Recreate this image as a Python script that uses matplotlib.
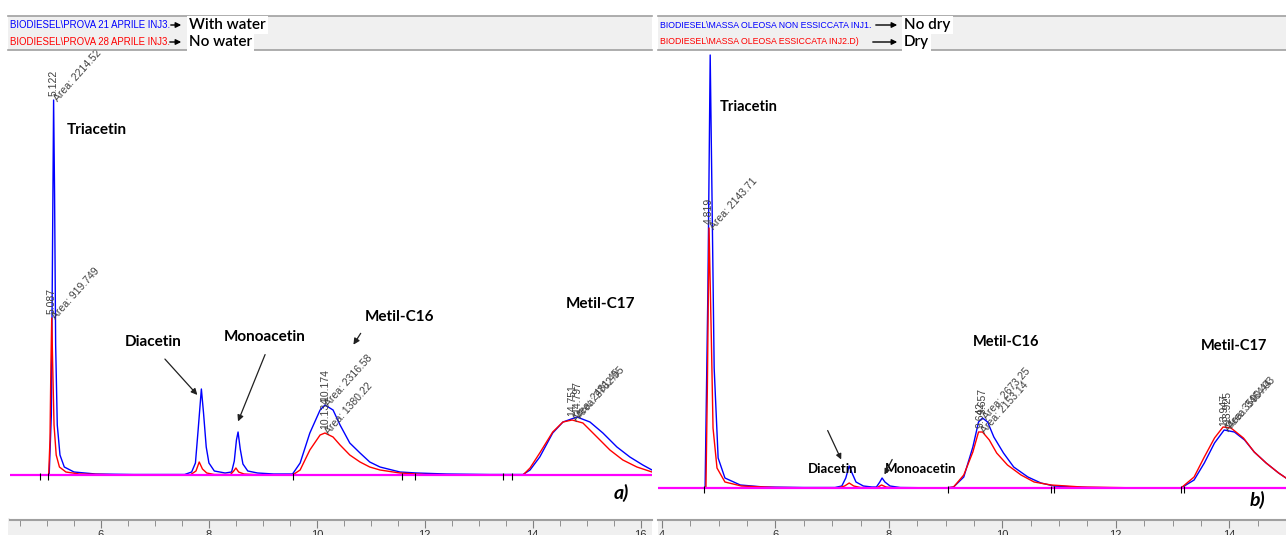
import math
import matplotlib
matplotlib.use("Agg")
import matplotlib.pyplot as plt
from matplotlib.patches import Rectangle, FancyArrowPatch

W, H = 1286, 535

# ---- chromatogram traces: (retention time [min], signal)
# panel a) with water (blue) / no water (red)
a_blue = [
    (4.31, 0), (4.95, 0), (5.04, 0), (5.08, 60), (5.105, 250), (5.122, 375), (5.14, 280),
    (5.16, 130), (5.19, 50), (5.24, 20), (5.32, 8), (5.5, 3), (5.9, 1), (6.6, 0.5),
    (7.55, 0.5), (7.68, 3), (7.75, 12), (7.8, 45), (7.86, 86), (7.9, 62), (7.95, 28),
    (8.0, 12), (8.1, 4), (8.3, 2),
    (8.42, 3), (8.47, 14), (8.51, 35), (8.54, 43), (8.58, 26), (8.63, 11), (8.72, 4),
    (8.9, 2), (9.2, 1),
    (9.55, 1), (9.69, 12), (9.87, 42), (10.06, 65), (10.15, 70), (10.3, 65), (10.43, 50),
    (10.61, 32), (10.8, 22), (10.98, 13), (11.17, 8), (11.54, 3), (11.85, 2), (12.4, 1),
    (13.2, 0.5),
    (13.82, 0.5), (13.95, 5), (14.13, 18), (14.37, 42), (14.56, 53), (14.82, 58),
    (15.06, 53), (15.3, 42), (15.56, 28), (15.8, 18), (16.04, 10), (16.21, 5)]
a_red = [
    (4.31, 0), (4.98, 0), (5.03, 0), (5.055, 35), (5.072, 110), (5.087, 157), (5.105, 110),
    (5.13, 50), (5.17, 20), (5.23, 8), (5.35, 3), (5.6, 1), (6.5, 0),
    (7.65, 0), (7.76, 4), (7.82, 13), (7.88, 6), (7.96, 2), (8.1, 0.5),
    (8.4, 0.5), (8.46, 4), (8.5, 7), (8.55, 3), (8.65, 1), (9.0, 0),
    (9.55, 0), (9.69, 5), (9.87, 25), (10.06, 40), (10.15, 42), (10.3, 38), (10.43, 30),
    (10.61, 20), (10.8, 13), (10.98, 8), (11.17, 5), (11.54, 2), (12.0, 0.5), (13.2, 0),
    (13.82, 0), (13.95, 7), (14.13, 22), (14.37, 43), (14.56, 53), (14.73, 55),
    (14.93, 52), (15.19, 38), (15.43, 25), (15.67, 15), (15.93, 8), (16.21, 3)]

# panel b) no dry (blue) / dry (red)
b_blue = [
    (3.93, 0), (4.7, 0), (4.76, 0), (4.81, 200), (4.85, 433), (4.88, 300), (4.92, 120),
    (4.99, 30), (5.11, 10), (5.38, 3), (5.8, 1), (6.5, 0.5),
    (7.05, 0.5), (7.17, 2), (7.24, 10), (7.3, 22), (7.35, 15), (7.42, 6), (7.55, 2), (7.7, 1),
    (7.78, 1), (7.84, 6), (7.88, 10), (7.93, 6), (8.02, 2), (8.2, 0.5),
    (9.0, 0), (9.14, 1), (9.32, 11), (9.48, 41), (9.58, 66), (9.65, 70), (9.74, 66),
    (9.85, 51), (10.02, 35), (10.2, 21), (10.45, 11), (10.68, 5), (10.91, 2), (11.5, 0.5),
    (12.5, 0),
    (13.15, 0), (13.38, 8), (13.56, 25), (13.74, 45), (13.91, 58), (14.09, 56), (14.27, 48),
    (14.44, 36), (14.65, 25), (14.87, 15), (15.0, 10)]
b_red = [
    (3.93, 0), (4.72, 0), (4.775, 0), (4.8, 100), (4.83, 260), (4.87, 150), (4.9, 60),
    (4.97, 20), (5.11, 6), (5.4, 2), (6.0, 0.5),
    (7.1, 0), (7.22, 2), (7.3, 5), (7.38, 2), (7.5, 0.5),
    (7.78, 0), (7.87, 3), (7.95, 1), (8.1, 0),
    (9.0, 0), (9.14, 1), (9.32, 13), (9.48, 36), (9.58, 56), (9.65, 56), (9.77, 48),
    (9.9, 35), (10.09, 23), (10.33, 13), (10.56, 6), (10.86, 3), (11.4, 1), (12.5, 0),
    (13.15, 0), (13.38, 11), (13.56, 31), (13.74, 50), (13.89, 61), (14.03, 60), (14.25, 50),
    (14.44, 36), (14.65, 25), (14.87, 15), (15.0, 10)]

# integration marks on the baseline
a_marks = [4.87, 5.02, 9.56, 11.58, 11.82, 13.45, 13.62]
b_marks = [4.74, 9.05, 10.86, 10.91, 13.15, 13.2]

# peak labels: (retention time text, area text, rt, height)
a_blue_pk = [("5.122", "Area: 2214.52", 5.122, 375), ("10.174", "Area: 2316.58", 10.15, 70),
             ("14.797", "Area: 2762.95", 14.82, 58)]
a_red_pk = [("5.087", "Area: 919.749", 5.087, 157), ("10.134", "Area: 1380.22", 10.15, 42),
            ("14.751", "Area: 2481.45", 14.73, 55)]
b_blue_pk = [("9.657", "Area: 2673.25", 9.65, 70), ("13.947", "Area: 3590.44", 13.91, 58)]
b_red_pk = [("4.819", "Area: 2143.71", 4.83, 260), ("9.642", "Area: 2153.14", 9.62, 56),
            ("13.925", "Area: 3464.03", 13.96, 61)]

# compound names
a_names = ["Triacetin", "Diacetin", "Monoacetin", "Metil-C16", "Metil-C17"]
b_names = ["Triacetin", "Diacetin", "Monoacetin", "Metil-C16", "Metil-C17"]

# header legends
a_files = ["BIODIESEL\\PROVA 21 APRILE INJ3.", "BIODIESEL\\PROVA 28 APRILE INJ3."]
a_keys = ["With water", "No water"]
b_files = ["BIODIESEL\\MASSA OLEOSA NON ESSICCATA INJ1.", "BIODIESEL\\MASSA OLEOSA ESSICCATA INJ2.D)"]
b_keys = ["No dry", "Dry"]

BLUE, RED, MAG = "#0000ff", "#ff0000", "#ff00ff"
SANS = ["Liberation Sans", "DejaVu Sans"]
BOLD = ["Lato", "DejaVu Sans"]

fig = plt.figure(figsize=(W / 100, H / 100), dpi=100, facecolor="white")


def fx(x):
    return x / W


def fy(y):
    return 1 - y / H


def header(x0, x1, files, keys, arrow_x, key_x, fs):
    fig.add_artist(Rectangle((fx(x0), fy(50)), fx(x1 - x0), (50 - 16) / H,
                             transform=fig.transFigure, facecolor="#f0f0f0",
                             edgecolor="none", zorder=-2))
    for yy in (16, 50):
        fig.add_artist(plt.Line2D([fx(x0), fx(x1)], [fy(yy), fy(yy)],
                                  transform=fig.transFigure, color="#a0a0a0", lw=1.2))
    for i, (f, k, c) in enumerate(zip(files, keys, (BLUE, RED))):
        yc = 25 + 17 * i
        fig.text(fx(x0 + 2), fy(yc), f, color=c, family=SANS, fontsize=fs, va="center")
        fig.add_artist(FancyArrowPatch((fx(arrow_x[i][0]), fy(yc)), (fx(arrow_x[i][1]), fy(yc)),
                                       transform=fig.transFigure, arrowstyle="-|>",
                                       mutation_scale=8, lw=1, color="k"))
        fig.text(fx(key_x), fy(yc), k, family=BOLD, weight="semibold", fontsize=11, va="center",
                 bbox=dict(facecolor="white", edgecolor="none", pad=1.5))


def bottom_strip(x0, x1):
    fig.add_artist(Rectangle((fx(x0), 0), fx(x1 - x0), (535 - 518) / H,
                             transform=fig.transFigure, facecolor="#f0f0f0",
                             edgecolor="none", zorder=-2))


def panel(x0, x1, xlim, ylim, blue, red, marks, bpk, rpk):
    ax = fig.add_axes([fx(x0), (H - 520) / H, fx(x1 - x0), (520 - 52) / H])
    ax.patch.set_facecolor("white")
    ax.plot(*zip(*blue), color=BLUE, lw=1.0, zorder=2)
    ax.plot(*zip(*red), color=RED, lw=1.0, zorder=2.1)
    ax.axhline(0, color=MAG, lw=1.6, zorder=3)
    ax.vlines(marks, -5, 2, color="k", lw=0.8, zorder=4)
    for pk in (bpk, rpk):
        for rt_txt, area_txt, rt, h in pk:
            ax.annotate(rt_txt, (rt, h), xytext=(0, 4), textcoords="offset pixels",
                        rotation=90, ha="center", va="bottom", fontsize=7.5,
                        family=SANS, color="#404040", annotation_clip=False)
            ax.annotate(area_txt, (rt, h), xytext=(6, -3), textcoords="offset pixels",
                        rotation=48, rotation_mode="anchor", ha="left", va="bottom",
                        fontsize=7.5, family=SANS, color="#404040", annotation_clip=False)
    major = [v for v in range(math.ceil(xlim[0]), math.floor(xlim[1]) + 1) if v % 2 == 0]
    minor = [v / 2 for v in range(math.ceil(xlim[0] * 2), math.floor(xlim[1] * 2) + 1)]
    ax.set_xticks(major)
    ax.set_xticks(minor, minor=True)
    ax.set_xlim(*xlim)
    ax.set_ylim(*ylim)
    ax.set_yticks([])
    for s in ("left", "right", "top"):
        ax.spines[s].set_visible(False)
    ax.spines["bottom"].set_color("#a0a0a0")
    ax.spines["bottom"].set_linewidth(1.5)
    ax.tick_params(axis="x", which="major", direction="out", length=6, color="#808080",
                   labelsize=8, labelcolor="#303030", pad=1)
    ax.tick_params(axis="x", which="minor", direction="out", length=4, color="#808080")
    for lab in ax.get_xticklabels():
        lab.set_family(SANS)
    return ax


# ---- panel a)
header(8, 652, a_files, a_keys, [(168, 184), (167, 184)], 189, 6.9)
bottom_strip(8, 652)
ax1 = panel(10, 652, (4.314, 16.21), (-45, 423), a_blue, a_red, a_marks, a_blue_pk, a_red_pk)
a_pos = [(5.37, 345, "left"), (6.96, 133, "center"), (9.04, 138, "center"),
         (11.54, 158, "center"), (15.25, 171, "center")]
for name, (x, y, ha) in zip(a_names, a_pos):
    ax1.text(x, y, name, family=BOLD, weight="bold", fontsize=11, ha=ha, va="center")
for (xa, ya), (xb, yb) in [((7.15, 118), (7.82, 78)), ((9.06, 123), (8.52, 51)),
                           ((10.84, 144), (10.65, 128))]:
    ax1.annotate("", (xb, yb), xytext=(xa, ya),
                 arrowprops=dict(arrowstyle="-|>", color="#202020", lw=0.9, mutation_scale=9))
ax1.text(15.65, -18, "a)", family=BOLD, weight="bold", style="italic", fontsize=14,
         ha="center", va="center")

# ---- panel b)
header(658, 1286, b_files, b_keys, [(873, 900), (870, 900)], 904, 6.3)
bottom_strip(658, 1286)
ax2 = panel(658, 1286, (3.93, 15.0), (-32, 436), b_blue, b_red, b_marks, b_blue_pk, b_red_pk)
b_pos = [(5.52, 381, 10.5), (7.0, 19, 9.5), (8.56, 19, 9.5), (10.06, 146, 10.5),
         (14.09, 142, 10.5)]
for name, (x, y, fs) in zip(b_names, b_pos):
    ax2.text(x, y, name, family=BOLD, weight="bold", fontsize=fs, ha="center", va="center")
for (xa, ya), (xb, yb) in [((6.90, 60), (7.18, 26)), ((8.08, 31), (7.9, 11))]:
    ax2.annotate("", (xb, yb), xytext=(xa, ya),
                 arrowprops=dict(arrowstyle="-|>", color="#202020", lw=0.9, mutation_scale=8))
ax2.text(14.5, -12, "b)", family=BOLD, weight="bold", style="italic", fontsize=14,
         ha="center", va="center")

fig.savefig("out.png", dpi=100, facecolor="white")
